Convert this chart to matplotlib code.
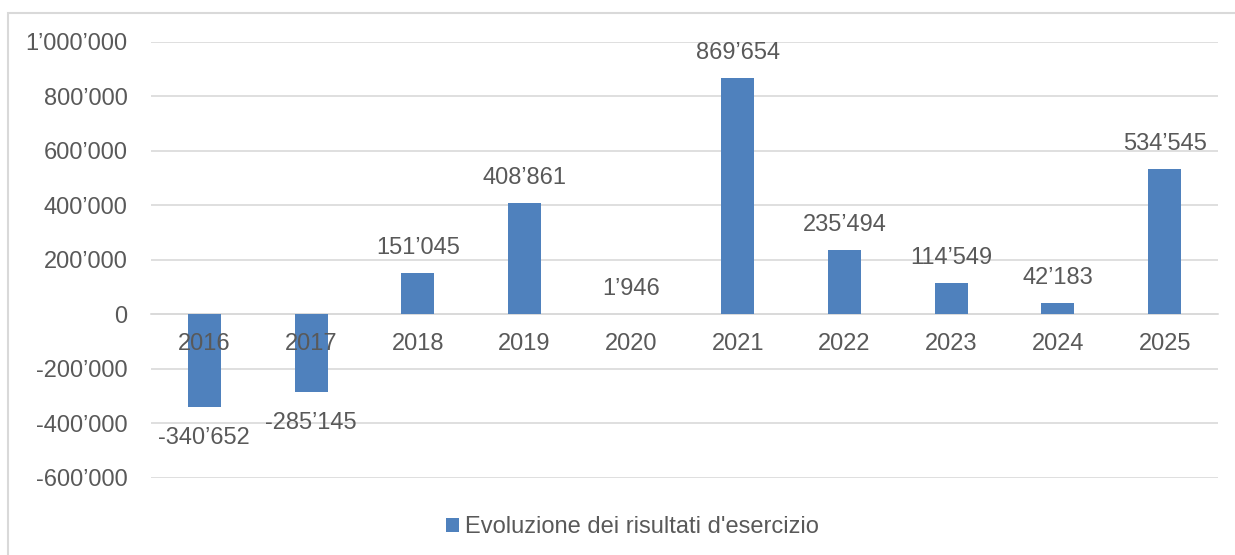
import matplotlib.pyplot as plt
from matplotlib.patches import Rectangle
from matplotlib.ticker import FuncFormatter

plt.rcParams['font.family'] = ['Liberation Sans', 'DejaVu Sans']

years = ['2016', '2017', '2018', '2019', '2020', '2021', '2022', '2023', '2024', '2025']
results = [-340652, -285145, 151045, 408861, 1946, 869654, 235494, 114549, 42183, 534545]

blue = '#4F81BD'
txt = '#595959'
grid = '#D9D9D9'
fs = 17


def fmt(v, pos=None):
    s = f"{int(round(abs(v))):,}".replace(',', '\u2019')
    return '-' + s if v < 0 else s


W, H = 1235, 555
fig = plt.figure(figsize=(W / 100, H / 100), dpi=100)
# chart area border
fig.patches.append(Rectangle((8 / W, -0.05), 1.1, 1 - 13 / H + 0.05,
                             transform=fig.transFigure, fill=False,
                             edgecolor=grid, linewidth=1.5))

ax = fig.add_axes([151 / W, 1 - 478 / H, (1218 - 151) / W, (478 - 42) / H])
x = list(range(len(years)))
bars = ax.bar(x, results, width=0.31, color=blue, zorder=3,
              label="Evoluzione dei risultati d'esercizio")

ax.set_xlim(-0.5, len(years) - 0.5)
ax.set_ylim(-600000, 1000000)
ax.set_yticks(range(-600000, 1000001, 200000))
ax.yaxis.set_major_formatter(FuncFormatter(fmt))
ax.grid(axis='y', color=grid, linewidth=1.2, zorder=0)

for s in ['top', 'right', 'left']:
    ax.spines[s].set_visible(False)
ax.spines['bottom'].set_position(('data', 0))
ax.spines['bottom'].set_color(grid)
ax.spines['bottom'].set_linewidth(1.2)

# category labels sit on the zero line, drawn over the bars
ax.set_xticks(x)
ax.set_xticklabels([])
ax.tick_params(axis='x', length=0)
ax.tick_params(axis='y', length=0, pad=17, labelsize=fs, labelcolor=txt)
for xi, yr in zip(x, years):
    ax.annotate(yr, (xi, 0), xytext=(0, -21), textcoords='offset points',
                ha='center', va='center', fontsize=fs, color=txt, zorder=5)

for xi, v in zip(x, results):
    if v >= 0:
        ax.annotate(fmt(v), (xi, v), xytext=(0, 10), textcoords='offset points',
                    ha='center', va='bottom', fontsize=fs, color=txt)
    else:
        ax.annotate(fmt(v), (xi, v), xytext=(0, -14), textcoords='offset points',
                    ha='center', va='top', fontsize=fs, color=txt)

fig.legend(handles=[bars], loc='center', bbox_to_anchor=(632 / W, 1 - 527 / H),
           frameon=False, fontsize=fs, labelcolor=txt, handlelength=0.55,
           handleheight=0.55, handletextpad=0.25)

fig.savefig('out.png', dpi=100)
